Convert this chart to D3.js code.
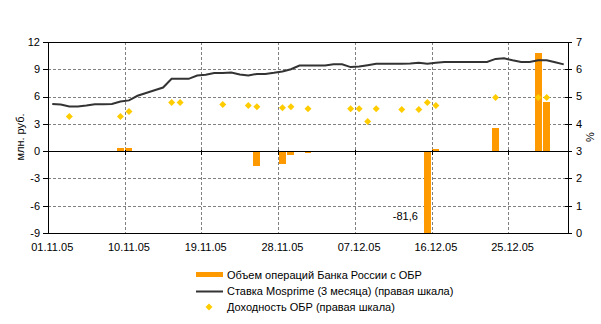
<!DOCTYPE html>
<html><head><meta charset="utf-8">
<script src="https://cdn.jsdelivr.net/npm/d3@7"></script>
<style>
body{margin:0;background:#fff}
text{font-family:"Liberation Sans",Arial,sans-serif;font-size:11px;fill:#000}
</style>
</head><body><svg id="chart" width="601" height="324"></svg>
<script>
// Daily categories, 01.11.05 – 31.12.05
const fmt = d3.timeFormat("%d.%m.%y");
const days = d3.timeDay.range(new Date(2005, 10, 1), new Date(2006, 0, 1)).map(fmt);

// Every ninth day gets a label and a gridline
const tickLabels = ["01.11.05","10.11.05","19.11.05","28.11.05","07.12.05","16.12.05","25.12.05"];
const leftTicks = [-9, -6, -3, 0, 3, 6, 9, 12];
const rightTicks = [0, 1, 2, 3, 4, 5, 6, 7];

// Mosprime 3M rate, %, one value per day
const mosprime = [4.73,4.71,4.64,4.64,4.67,4.72,4.72,4.73,4.82,4.86,
  5.03,5.13,5.23,5.33,5.65,5.65,5.65,5.77,5.80,5.86,
  5.86,5.88,5.81,5.77,5.83,5.83,5.87,5.92,6.00,6.14,
  6.14,6.14,6.14,6.18,6.18,6.08,6.10,6.15,6.20,6.20,
  6.20,6.20,6.21,6.24,6.20,6.24,6.27,6.27,6.27,6.27,
  6.27,6.27,6.38,6.40,6.33,6.27,6.27,6.33,6.33,6.26,6.18];

// Bank of Russia bond operations, mln rub.
const opDates = ["09.11.05","10.11.05","25.11.05","28.11.05","29.11.05","01.12.05","07.12.05","14.12.05","15.12.05","16.12.05","23.12.05","28.12.05","29.12.05"];
const opValues = [0.36,0.36,-1.58,-1.39,-0.37,-0.15,-0.12,-0.10,-81.6,0.25,2.56,10.8,5.42];

// OBR yield, %
const yieldDates = ["03.11.05","09.11.05","10.11.05","15.11.05","16.11.05","21.11.05","24.11.05","25.11.05","28.11.05","29.11.05","01.12.05","06.12.05","07.12.05","08.12.05","09.12.05","12.12.05","14.12.05","15.12.05","16.12.05","23.12.05","28.12.05","29.12.05"];
const yieldValues = [4.27,4.27,4.45,4.78,4.78,4.71,4.67,4.63,4.59,4.63,4.55,4.55,4.55,4.09,4.55,4.53,4.53,4.78,4.67,4.97,4.97,4.97];

const legendLabels = ["Объем операций Банка России с ОБР","Ставка Mosprime (3 месяца) (правая шкала)","Доходность ОБР (правая шкала)"];

const C = {bar:"#FF9900", line:"#333333", dot:"#FFCC00", grid:"#808080"};
const L = 48, R = 568, T = 42, B = 233;

const svg = d3.select("#chart");
const x = d3.scaleBand().domain(days).range([L, R]).paddingInner(0.18).paddingOuter(0.09);
const yL = d3.scaleLinear().domain([-9, 12]).range([B, T]);
const yR = d3.scaleLinear().domain([0, 7]).range([B, T]);
const gap = (x.step() - x.bandwidth()) / 2;
const boundary = d => x(d) - gap;
const center = d => x(d) + x.bandwidth() / 2;

svg.append("defs").append("clipPath").attr("id","plot")
  .append("rect").attr("x", L).attr("y", T).attr("width", R - L).attr("height", B - T);

// gridlines
const grid = svg.append("g").attr("stroke", C.grid).attr("stroke-dasharray", "3,2").attr("shape-rendering","crispEdges");
grid.selectAll("line.h").data(leftTicks.filter(v => v !== 0 && v !== 12 && v !== -9)).join("line")
  .attr("x1", L).attr("x2", R).attr("y1", d => Math.round(yL(d)) + 0.5).attr("y2", d => Math.round(yL(d)) + 0.5);
grid.selectAll("line.v").data(tickLabels.slice(1)).join("line")
  .attr("x1", d => Math.round(boundary(d)) + 0.5).attr("x2", d => Math.round(boundary(d)) + 0.5)
  .attr("y1", T).attr("y2", B);

// bars
svg.append("g").attr("clip-path","url(#plot)").selectAll("rect").data(opDates.map((d,i)=>({d, v:opValues[i]}))).join("rect")
  .attr("x", d => x(d.d)).attr("width", x.bandwidth())
  .attr("y", d => yL(Math.max(0, d.v))).attr("height", d => Math.abs(yL(d.v) - yL(0)))
  .attr("fill", C.bar).attr("shape-rendering","crispEdges");

// value label of the off-scale bar
const minVal = d3.min(opValues);
const big = opDates[opValues.indexOf(minVal)];
svg.append("text").attr("x", x(big) - 6).attr("y", B - 13).attr("text-anchor","end")
  .text(minVal.toFixed(1).replace(".", ","));

// frame and zero line
const ax = svg.append("g").attr("stroke","#000").attr("shape-rendering","crispEdges").attr("fill","none");
ax.append("rect").attr("x", L + 0.5).attr("y", T + 0.5).attr("width", R - L).attr("height", B - T);
const y0 = Math.round(yL(0)) + 0.5;
ax.append("line").attr("x1", L).attr("x2", R).attr("y1", y0).attr("y2", y0);
ax.selectAll("line.zt").data(tickLabels.slice(1)).join("line")
  .attr("x1", d => Math.round(boundary(d)) + 0.5).attr("x2", d => Math.round(boundary(d)) + 0.5)
  .attr("y1", y0 - 2).attr("y2", y0 + 3);
ax.selectAll("line.lt").data(leftTicks).join("line")
  .attr("x1", L - 5).attr("x2", L).attr("y1", d => Math.round(yL(d)) + 0.5).attr("y2", d => Math.round(yL(d)) + 0.5);
ax.selectAll("line.rt").data(rightTicks).join("line")
  .attr("x1", R - 3).attr("x2", R + 4).attr("y1", d => Math.round(yR(d)) + 0.5).attr("y2", d => Math.round(yR(d)) + 0.5);

// Mosprime line
svg.append("path").datum(mosprime)
  .attr("d", d3.line().x((v,i) => center(days[i])).y(v => yR(v)))
  .attr("fill","none").attr("stroke", C.line).attr("stroke-width", 2);

// OBR yield markers
const diamond = "M0,-3.5L3.5,0L0,3.5L-3.5,0Z";
svg.append("g").selectAll("path").data(yieldDates.map((d,i)=>({d, v:yieldValues[i]}))).join("path")
  .attr("transform", d => `translate(${center(d.d)},${yR(d.v)})`)
  .attr("d", diamond).attr("fill", C.dot);

// axis labels
svg.append("g").selectAll("text").data(leftTicks).join("text")
  .attr("x", 40).attr("y", d => yL(d)).attr("dy","0.35em").attr("text-anchor","end").text(d => d);
svg.append("g").selectAll("text").data(rightTicks).join("text")
  .attr("x", 576).attr("y", d => yR(d)).attr("dy","0.35em").text(d => d);
svg.append("g").selectAll("text").data(tickLabels).join("text")
  .attr("x", d => center(d)).attr("y", 251).attr("text-anchor","middle").text(d => d);

svg.append("text").attr("transform","translate(24,137) rotate(-90)").attr("text-anchor","middle").text("млн. руб.");
svg.append("text").attr("transform","translate(594,137) rotate(-90)").attr("text-anchor","middle").text("%");

// legend
const lg = svg.append("g");
lg.append("rect").attr("x",196).attr("y",272).attr("width",27).attr("height",5).attr("fill",C.bar);
lg.append("line").attr("x1",196).attr("x2",223).attr("y1",291.5).attr("y2",291.5).attr("stroke",C.line).attr("stroke-width",2);
lg.append("path").attr("transform","translate(209,307)").attr("d",diamond).attr("fill",C.dot);
lg.selectAll("text").data(legendLabels).join("text")
  .attr("x",227).attr("y",(d,i)=>275 + i*16).attr("dy","0.35em").text(d=>d);
</script>
</body></html>
